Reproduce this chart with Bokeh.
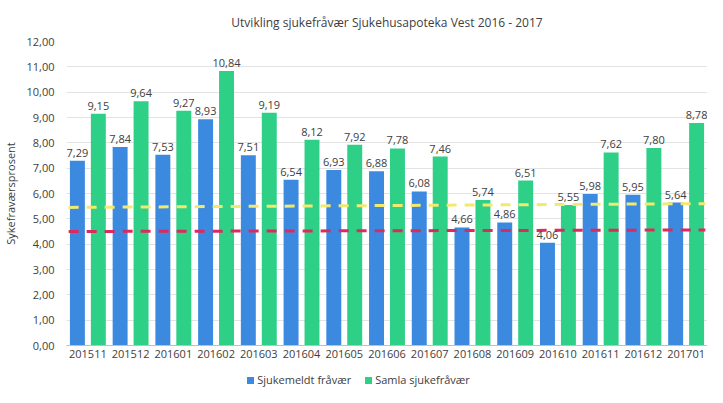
from bokeh.plotting import figure
from bokeh.layouts import column
from bokeh.models import ColumnDataSource, Range1d, LabelSet, SingleIntervalTicker, CustomJSTickFormatter, Div
from bokeh.transform import dodge
from bokeh.core.properties import value
from bokeh.embed import file_html
from bokeh.resources import INLINE

categories = ["201511", "201512", "201601", "201602", "201603", "201604", "201605",
              "201606", "201607", "201608", "201609", "201610", "201611", "201612", "201701"]
sjukemeldt = [7.29, 7.84, 7.53, 8.93, 7.51, 6.54, 6.93, 6.88, 6.08, 4.66, 4.86, 4.06, 5.98, 5.95, 5.64]
samla = [9.15, 9.64, 9.27, 10.84, 9.19, 8.12, 7.92, 7.78, 7.46, 5.74, 6.51, 5.55, 7.62, 7.80, 8.78]
series_names = ["Sjukemeldt fråvær", "Samla sjukefråvær"]
trend_yellow = [5.45, 5.60]
trend_red = [4.50, 4.56]

FONT = "Open Sans"
BLUE = "#3b8ae0"
GREEN = "#2ecf87"

src = ColumnDataSource(dict(
    cat=categories, blue=sjukemeldt, green=samla,
    blue_lbl=[f"{v:.2f}".replace(".", ",") for v in sjukemeldt],
    green_lbl=[f"{v:.2f}".replace(".", ",") for v in samla],
))

p = figure(x_range=categories, y_range=Range1d(0, 12), width=707, height=367,
           output_backend="svg", toolbar_location=None,
           title="Utvikling sjukefråvær Sjukehusapoteka Vest 2016 - 2017",
           min_border_left=60, min_border_right=0, min_border_top=20, min_border_bottom=22)
p.outline_line_color = None
p.title.align = "center"
p.title.text_font = FONT
p.title.text_font_size = "12px"
p.title.text_font_style = "normal"
p.title.text_color = "#404040"
p.title.standoff = 22

w = 0.35
rb = p.vbar(x=dodge("cat", -0.245, range=p.x_range), top="blue", width=w, source=src,
            fill_color=BLUE, line_color=None)
rg = p.vbar(x=dodge("cat", 0.245, range=p.x_range), top="green", width=w, source=src,
            fill_color=GREEN, line_color=None)

for col, lbl, off in (("blue", "blue_lbl", -0.245), ("green", "green_lbl", 0.245)):
    p.add_layout(LabelSet(x=dodge("cat", off, range=p.x_range), y=col, text=lbl, source=src,
                          text_align="center", text_baseline="bottom", y_offset=4,
                          text_font=value(FONT), text_font_size="11px", text_color="#404040"))

tsrc = ColumnDataSource(dict(x0=[categories[0]], x1=[categories[-1]],
                             y0y=[trend_yellow[0]], y1y=[trend_yellow[1]],
                             y0r=[trend_red[0]], y1r=[trend_red[1]]))
p.segment(x0=dodge("x0", -0.45, range=p.x_range), x1=dodge("x1", 0.45, range=p.x_range),
          y0="y0y", y1="y1y", source=tsrc, line_color="#f2ea6e", line_width=3, line_dash="10 8")
p.segment(x0=dodge("x0", -0.45, range=p.x_range), x1=dodge("x1", 0.45, range=p.x_range),
          y0="y0r", y1="y1r", source=tsrc, line_color="#dc2a5e", line_width=3, line_dash="10 8")

p.yaxis.ticker = SingleIntervalTicker(interval=1)
p.yaxis.formatter = CustomJSTickFormatter(code="return tick.toFixed(2).replace('.', ',');")
p.yaxis.axis_label = "Sykefraværsprosent"
p.yaxis.axis_label_text_font = FONT
p.yaxis.axis_label_text_font_size = "11px"
p.yaxis.axis_label_text_font_style = "normal"
p.yaxis.axis_label_text_color = "#404040"
p.yaxis.axis_label_standoff = 5
p.yaxis.axis_line_color = None
p.yaxis.major_tick_line_color = None
p.yaxis.minor_tick_line_color = None
p.yaxis.major_tick_out = 0
p.yaxis.major_tick_in = 0
p.yaxis.major_label_standoff = 8
p.yaxis.major_label_text_font = FONT
p.yaxis.major_label_text_font_size = "11px"
p.yaxis.major_label_text_color = "#404040"

p.xaxis.axis_line_color = "#bfbfbf"
p.xaxis.major_tick_line_color = None
p.xaxis.minor_tick_line_color = None
p.xaxis.major_tick_out = 0
p.xaxis.major_tick_in = 0
p.xaxis.major_label_standoff = 4
p.xaxis.major_label_text_font = FONT
p.xaxis.major_label_text_font_size = "11px"
p.xaxis.major_label_text_color = "#404040"

p.xgrid.grid_line_color = None
p.ygrid.grid_line_color = "#e3e3e3"

def swatch(color):
    return (f'<span style="display:inline-block;width:7px;height:7px;background:{color};'
            f'margin-right:3px;vertical-align:middle;position:relative;top:-1px"></span>')

legend_html = (
    f'<div style="width:707px;text-align:center;font-family:\'{FONT}\';font-size:11px;'
    f'color:#404040;padding-top:0px;white-space:nowrap">'
    f'{swatch(BLUE)}<span>{series_names[0]}</span>'
    f'<span style="display:inline-block;width:14px"></span>'
    f'{swatch(GREEN)}<span>{series_names[1]}</span></div>'
)
legend_div = Div(text=legend_html, width=707, height=20)

layout = column(p, legend_div, spacing=0)

open("out.html", "w").write(file_html(layout, INLINE))
